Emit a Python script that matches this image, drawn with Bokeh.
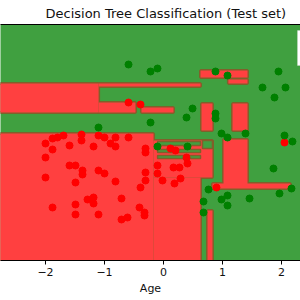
from bokeh.plotting import figure
from bokeh.models import Range1d, FixedTicker, ColumnDataSource, LinearAxis, BoxAnnotation
from bokeh.embed import file_html
from bokeh.resources import INLINE

# ---- data ----
title = "Decision Tree Classification (Test set)"
x_label = "Age"
x_ticks = [-2, -1, 0, 1, 2]
x_tick_labels = ["\u22122", "\u22121", "0", "1", "2"]

# predicted class-0 (red) regions of the decision tree: left, right, bottom, top
red_left   = [-3.0, -1.10, -1.10, -0.373, 0.627, 1.10, 0.644, 1.17, -3.0, -0.169, -0.169, 0.746, 1.017, 0.83]
red_right  = [-1.10, 0.627, -0.475, 0.169, 1.424, 1.424, 0.83, 1.424, -0.169, 0.83, 0.627, 0.83, 1.424, 2.15]
red_bottom = [1.10, 1.75, 1.10, 1.10, 1.975, 1.825, 0.65, 0.65, -3.0, -0.525, -3.0, -3.0, -0.725, -0.80]
red_top    = [1.825, 1.825, 1.35, 1.225, 2.15, 1.925, 1.325, 1.325, 0.575, 0.40, -0.525, -1.35, 0.425, -0.675]

# class-1 (green) pockets inside red regions
hole_left   = [-0.10, -0.10, -0.10, 0.661]
hole_right  = [0.627, 0.627, 0.627, 0.83]
hole_bottom = [0.275, 0.10, -0.05, 0.20]
hole_top    = [0.375, 0.175, 0.025, 0.40]

# test-set points, class 0 (red)
red_x = [-0.593, -0.390, -2.0, -1.881, -1.797, -1.695, -1.881, -1.593, -1.390, -1.390,
         -1.186, -1.102, -1.0, -0.814, -0.593, -0.898, -0.814, -0.305, -0.305, 0.119,
         0.203, 0.390, -0.102, 0.169, 0.271, 0.407, -0.102, -0.017, 0.288, 0.186,
         0.898, -2.0, -1.593, -1.492, -1.373, -1.373, -1.102, -1.0, -2.0, -1.492,
         -0.305, -0.305, -0.390, -0.814, -1.288, -1.186, -1.186, -1.881, -1.492, -1.492,
         -1.102, -0.712, -0.712, -0.610, -0.407, -0.322, -0.322, 2.051]
red_y = [1.35, 1.30, 0.325, 0.45, 0.475, 0.525, 0.175, 0.275, 0.55, 0.40,
         0.25, 0.525, 0.475, 0.475, 0.475, 0.325, 0.25, 0.20, 0.10, 0.20,
         0.15, -0.025, -0.225, -0.275, -0.275, -0.175, -0.425, -0.60, -0.55, -0.675,
         -0.775, -0.025, -0.225, -0.225, -0.35, -0.45, -0.35, -0.425, -0.525, -0.65,
         -0.40, -0.60, -0.775, -0.625, -1.075, -1.025, -1.175, -1.275, -1.20, -1.45,
         -1.45, -1.05, -1.575, -1.525, -1.275, -1.40, -1.475, 0.35]

# test-set points, class 1 (green)
green_x = [-0.593, -0.220, -0.102, 0.881, 1.085, 1.949, 1.678, 2.068, 1.881, 0.492,
           0.390, -0.220, -1.102, 0.881, 0.881, 0.983, 1.085, 1.390, 2.051, 2.186,
           -0.102, 0.407, 0.763, 0.678, 0.983, 1.085, 1.085, 1.458, 0.678, 1.864,
           1.966, 2.169]
green_y = [2.30, 2.125, 2.20, 2.125, 2.025, 2.125, 1.725, 1.725, 1.475, 1.20,
           0.975, 0.85, 0.725, 1.075, 0.95, 0.575, 0.475, 0.575, 0.525, 0.375,
           0.25, 0.25, -0.825, -1.125, -1.075, -0.975, -1.225, -1.05, -1.40, -0.30,
           -0.925, -0.80]

# ---- styles ----
RED_BG = "#ff4040"
GREEN_BG = "#40a040"
EDGE = "#80602a"
FONT = "DejaVu Sans"

p = figure(width=300, height=300,
           x_range=Range1d(-2.763, 2.322), y_range=Range1d(-2.6, 3.3),
           output_backend="svg", toolbar_location=None, y_axis_location=None,
           min_border_left=0, min_border_right=0, min_border_top=0, min_border_bottom=40,
           title=title)
p.background_fill_color = GREEN_BG
p.border_fill_color = "white"
p.outline_line_color = None
p.grid.visible = False

p.title.text_font = FONT
p.title.text_font_size = "13px"
p.title.text_font_style = "normal"
p.title.text_color = "#111111"
p.title.align = "left"
p.title.offset = 45
p.title.standoff = 7

red_src = ColumnDataSource(dict(left=red_left, right=red_right, bottom=red_bottom, top=red_top))
hole_src = ColumnDataSource(dict(left=hole_left, right=hole_right, bottom=hole_bottom, top=hole_top))

p.quad(left="left", right="right", bottom="bottom", top="top", source=red_src,
       fill_color=RED_BG, line_color=EDGE, line_width=3)
p.quad(left="left", right="right", bottom="bottom", top="top", source=red_src,
       fill_color=RED_BG, line_color=None)
p.quad(left="left", right="right", bottom="bottom", top="top", source=hole_src,
       fill_color=GREEN_BG, line_color=EDGE, line_width=1.5)

p.scatter(red_x, red_y, size=7, fill_color="#ff0000", line_color="#ff0000")
p.scatter(green_x, green_y, size=7, fill_color="#008000", line_color="#008000")

# edge of the legend frame, which sits mostly beyond the right edge of the picture
# (screen units measured from the bottom-left corner of the plot frame)
p.add_layout(BoxAnnotation(left=297, right=340, top=230, bottom=195,
                           left_units="screen", right_units="screen",
                           top_units="screen", bottom_units="screen",
                           fill_color="white", fill_alpha=1.0,
                           line_color="#dddddd", line_width=1))

ax = p.xaxis[0]
ax.ticker = FixedTicker(ticks=x_ticks)
ax.major_label_overrides = {t: s for t, s in zip(x_ticks, x_tick_labels)}
ax.axis_label = x_label
ax.axis_label_text_font = FONT
ax.axis_label_text_font_size = "11px"
ax.axis_label_text_font_style = "normal"
ax.axis_label_text_color = "#111111"
ax.axis_label_standoff = 3
ax.major_label_text_font = FONT
ax.major_label_text_font_size = "11px"
ax.major_label_text_color = "#111111"
ax.major_label_standoff = 3
ax.major_tick_out = 4
ax.major_tick_in = 0
ax.minor_tick_line_color = None
ax.axis_line_color = "black"
ax.major_tick_line_color = "black"

top_axis = LinearAxis(ticker=FixedTicker(ticks=[]), major_label_text_font_size="0px",
                      major_tick_out=0, major_tick_in=0, minor_tick_out=0, minor_tick_in=0,
                      axis_line_color="black")
p.add_layout(top_axis, "above")

open("out.html", "w").write(file_html(p, INLINE))
